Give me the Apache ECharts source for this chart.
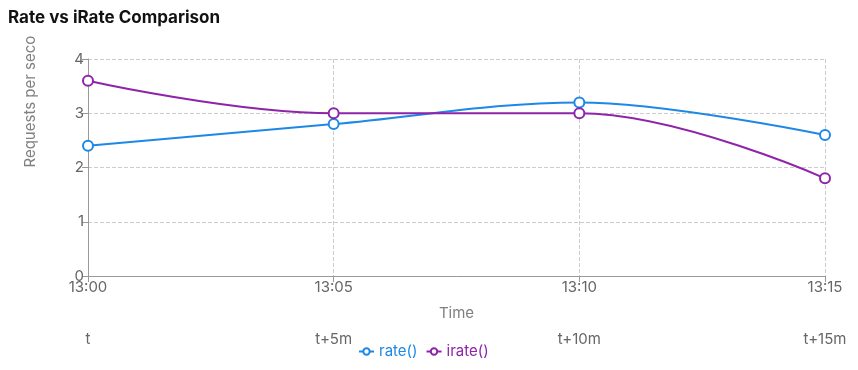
<!DOCTYPE html>
<html>
<head>
<meta charset="utf-8">
<script src="https://cdn.jsdelivr.net/npm/echarts@6/dist/echarts.min.js"></script>
<style>
html,body{margin:0;padding:0;background:#fff;}
#c{width:858px;height:370px;}
</style>
</head>
<body>
<div id="c"></div>
<script>
const times = ['13:00', '13:05', '13:10', '13:15'];
const relLabels = ['t', 't+5m', 't+10m', 't+15m'];
const rateValues = [2.4, 2.8, 3.2, 2.6];
const irateValues = [3.6, 3.0, 3.0, 1.8];
const yTicks = { min: 0, max: 4, interval: 1 };

const FONT = 'Inter, "Liberation Sans", Arial, sans-serif';
const RATE_COLOR = '#1e88e5';
const IRATE_COLOR = '#8e24aa';

const chart = echarts.init(document.getElementById('c'));
chart.setOption({
  animation: false,
  textStyle: { fontFamily: FONT },
  title: {
    text: 'Rate vs iRate Comparison',
    left: 3, top: 4,
    textStyle: { fontSize: 17, fontWeight: 'bold', color: '#111', fontFamily: FONT }
  },
  grid: { left: 88, right: 33, top: 59, bottom: 94, containLabel: false },
  legend: {
    bottom: 6, left: 353,
    itemWidth: 15, itemHeight: 8, itemGap: 8,
    textStyle: { fontSize: 15, fontFamily: FONT },
    data: [
      { name: 'rate()', textStyle: { color: RATE_COLOR } },
      { name: 'irate()', textStyle: { color: IRATE_COLOR } }
    ]
  },
  xAxis: [
    {
      type: 'category', data: times, boundaryGap: false, position: 'bottom',
      name: 'Time', nameLocation: 'middle', nameGap: 30,
      nameTextStyle: { fontSize: 15, color: '#808080', fontFamily: FONT },
      axisLine: { lineStyle: { color: '#999', width: 1 } },
      axisTick: { show: true, length: 6, lineStyle: { color: '#999' } },
      axisLabel: { fontSize: 15, color: '#666', margin: 4, fontFamily: FONT },
      splitLine: { show: true, lineStyle: { type: 'dashed', color: '#ccc' } }
    },
    {
      type: 'category', data: relLabels, boundaryGap: false, position: 'bottom',
      offset: 50,
      axisLine: { show: false },
      axisTick: { show: false },
      axisLabel: { fontSize: 15, color: '#666', margin: 6, fontFamily: FONT },
      splitLine: { show: false }
    }
  ],
  yAxis: {
    type: 'value', min: yTicks.min, max: yTicks.max, interval: yTicks.interval,
    name: 'Requests per second', nameLocation: 'middle', nameRotate: 90, nameGap: 50,
    nameTruncate: { maxWidth: 140, ellipsis: '' },
    nameTextStyle: { fontSize: 15, color: '#808080', fontFamily: FONT, align: 'left',
      width: 140, overflow: 'truncate', ellipsis: '' },
    axisLine: { show: true, lineStyle: { color: '#999', width: 1 } },
    axisTick: { show: true, length: 6, lineStyle: { color: '#999' } },
    axisLabel: { fontSize: 15, color: '#666', margin: 4, fontFamily: FONT },
    splitLine: { show: true, lineStyle: { type: 'dashed', color: '#ccc' } }
  },
  series: [
    {
      name: 'rate()', type: 'line', data: rateValues, xAxisIndex: 0,
      smooth: 0.35,
      symbol: 'circle', symbolSize: 10, z: 1,
      lineStyle: { color: RATE_COLOR, width: 2 },
      itemStyle: { color: '#fff', borderColor: RATE_COLOR, borderWidth: 2 }
    },
    {
      name: 'irate()', type: 'line', data: irateValues, xAxisIndex: 0,
      smooth: 0.4, smoothMonotone: 'x',
      symbol: 'circle', symbolSize: 10, z: 1,
      lineStyle: { color: IRATE_COLOR, width: 2 },
      itemStyle: { color: '#fff', borderColor: IRATE_COLOR, borderWidth: 2 }
    }
  ]
});
</script>
</body>
</html>
